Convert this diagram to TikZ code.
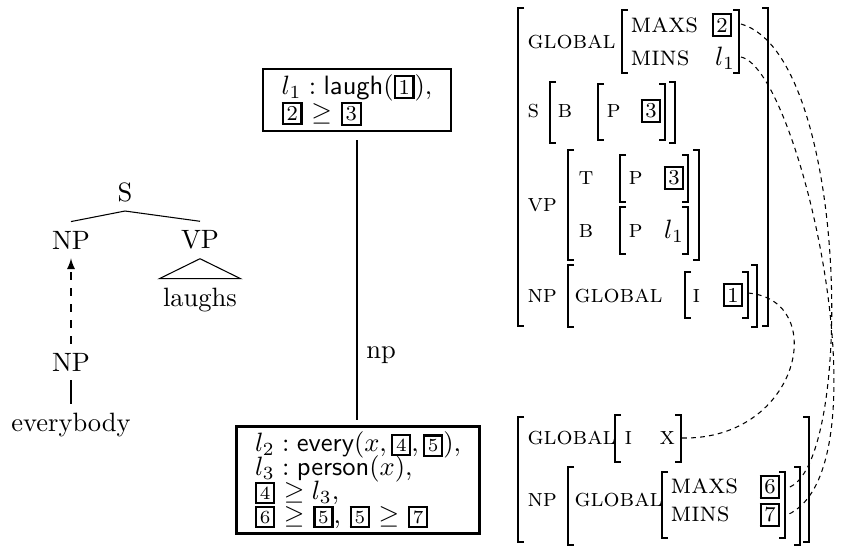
\documentclass[tikz,border=0pt]{standalone}
\usepackage{amsmath}
\usepackage{amssymb}

% boxed tag for the structure sharing indices
\newcommand{\bx}[2][\footnotesize]{{\setlength{\fboxrule}{0.8pt}\setlength{\fboxsep}{1pt}\fbox{#1#2}}}
% brackets of the feature structures: [style]{x}{top}{bottom}
\newcommand{\avmL}[4][thin]{\draw[#1] (#2+6,#3) -- (#2,#3) -- (#2,#4) -- (#2+6,#4);}
\newcommand{\avmR}[4][thin]{\draw[#1] (#2-6,#3) -- (#2,#3) -- (#2,#4) -- (#2-6,#4);}

\tikzset{
  feat/.style={anchor=west, inner sep=0pt, font=\fontsize{9.5}{11.5}\selectfont\scshape},
  scope feat/.style={feat, font=\fontsize{10.5}{12.5}\selectfont\scshape},
  val/.style={inner sep=0pt},
  formbox/.style={draw, line width=1pt, inner xsep=7pt, inner ysep=2pt, align=left},
  linkline/.style={dash pattern=on 1.8pt off 1.6pt, thin}
}

\begin{document}
\begin{tikzpicture}[x=0.377pt,y=-0.377pt]
        \useasboundingbox (0,0) rectangle (842,547);

        % Derivation tree
        \node (s) at (125,192) {S};
        \node (np) at (71,240) {NP};
        \node (vp) at (200,240) {VP};
        \node[inner xsep=1.2pt] (laughs) at (200,300) {laughs};
        \node (npx) at (71,362) {NP};
        \node (every) at (71,425) {everybody};
        \draw (s.south) -- (np.north);
        \draw (s.south) -- (vp.north);
        \draw (laughs.north west) -- (vp.south) -- (laughs.north east) -- cycle;
        \draw[dashed,-latex] (npx.north) -- (np.south);
        \draw (npx.south) -- (every.north);

        % Semantic formulas
        \node[formbox] (lone) at (357,100) {$l_1 : \textsf{laugh}(\bx{1}),$\\[-2pt] \bx{2} $\geq$ \bx{3}};
        \node[formbox] (ltwo) at (358,480) {$l_2 : \textsf{every}(x, \bx[\scriptsize]{4}, \bx[\scriptsize]{5}),$\\[-3pt]
          $l_3 : \textsf{person}(x),$\\[-3pt]
          \bx[\scriptsize]{4} $\geq l_3,$\\[-3pt]
          \bx[\scriptsize]{6} $\geq$ \bx[\scriptsize]{5}, \bx[\scriptsize]{5} $\geq$ \bx[\scriptsize]{7}};
        \draw[shorten <=3pt, shorten >=2pt] (lone.south) -- node[right,pos=0.76] (lnp) {np} (lone.south |- ltwo.north);

        % Upper feature structure
        \avmL[line width=0.8pt]{518}{8}{326}
        \avmR[line width=0.8pt]{768}{8}{326}
        \node[feat] (gl1) at (527,42) {global};
        \avmL{622}{10}{73}
        \avmR{739}{10}{73}
        \node[scope feat] (mx1) at (630,25) {maxs};
        \node[val] (t2) at (722,25) {\bx{2}};
        \node[scope feat] (mn1) at (630,58) {mins};
        \node[val] (la1) at (725,58) {$l_1$};
        \node[feat] (sf) at (527,111) {s};
        \avmL{550}{82}{143}
        \avmR{675}{82}{143}
        \node[feat] (sb) at (557,111) {b};
        \avmL{598}{84}{140}
        \avmR{665}{84}{140}
        \node[feat] (sp) at (606,111) {p};
        \node[val] (t3a) at (651,111) {\bx{3}};
        \node[feat] (vpf) at (527,205) {vp};
        \avmL{568}{150}{260}
        \avmR{699}{150}{260}
        \node[feat] (vt) at (578,178) {t};
        \avmL{620}{155}{202}
        \avmR{688}{155}{202}
        \node[feat] (vtp) at (628,178) {p};
        \node[val] (t3b) at (674,178) {\bx{3}};
        \node[feat] (vb) at (578,231) {b};
        \avmL{620}{207}{254}
        \avmR{688}{207}{254}
        \node[feat] (vbp) at (628,231) {p};
        \node[val] (la2) at (674,231) {$l_1$};
        \node[feat] (npf) at (527,296) {np};
        \avmL{568}{265}{327}
        \avmR{757}{265}{327}
        \node[feat] (gl2) at (574,296) {global};
        \avmL{685}{272}{318}
        \avmR{748}{272}{318}
        \node[feat] (ii) at (692,296) {i};
        \node[val] (t1) at (733,295) {\bx{1}};

        % Lower feature structure
        \avmL[line width=0.8pt]{518}{417}{542}
        \avmR[line width=0.8pt]{809}{417}{542}
        \node[feat] (gl3) at (527,438) {global};
        \avmL{615}{415}{462}
        \avmR{681}{415}{462}
        \node[feat] (ij) at (624,438) {i};
        \node[feat] (xv) at (659,438) {x};
        \node[feat] (npg) at (527,500) {np};
        \avmL{568}{467}{545}
        \avmR{800}{467}{545}
        \node[feat] (gl4) at (574,500) {global};
        \avmL{662}{472}{538}
        \avmR{785}{472}{538}
        \node[scope feat] (mx2) at (670,486) {maxs};
        \node[val] (t6) at (770,487) {\bx{6}};
        \node[scope feat] (mn2) at (670,514) {mins};
        \node[val] (t7) at (770,515) {\bx{7}};

        % Structure sharing links
        \coordinate (maxsA) at (741,24);
        \coordinate (minsA) at (741,57);
        \coordinate (indA) at (748,293);
        \coordinate (maxsB) at (787,488);
        \coordinate (minsB) at (787,515);
        \coordinate (indB) at (682,438);
        \draw[linkline] (maxsA) .. controls (850,55) and (855,470) .. (maxsB);
        \draw[linkline] (minsA) .. controls (800,70) and (890,470) .. (minsB);
        \draw[linkline] (indA) .. controls (830,300) and (800,440) .. (indB);
\end{tikzpicture}
\end{document}
